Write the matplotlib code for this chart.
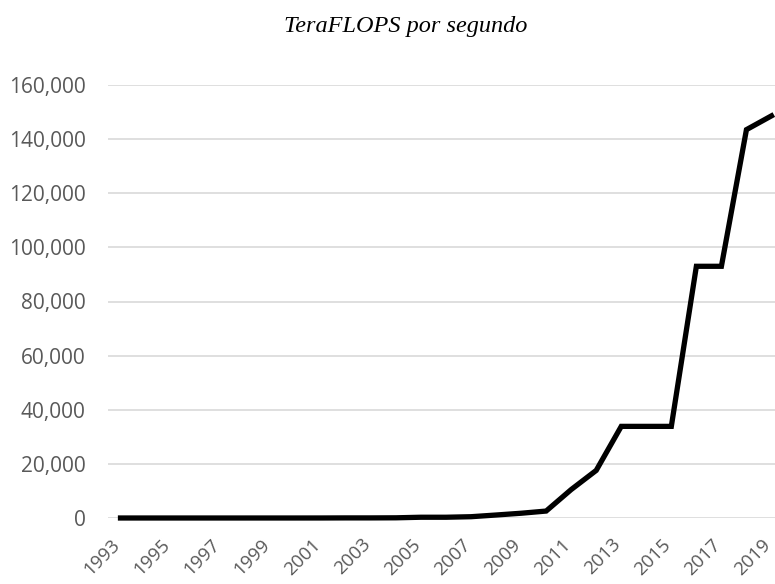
import matplotlib
matplotlib.use('Agg')
import matplotlib.pyplot as plt
import matplotlib.transforms as mtrans
from matplotlib.ticker import FuncFormatter

# TOP500 #1 system, TFLOPS
years = list(range(1993, 2020))
tflops = [0.06, 0.17, 0.17, 0.37, 1.34, 1.34, 2.12, 2.38, 7.23, 35.86, 35.86,
          70.72, 280.6, 280.6, 478.2, 1105, 1759, 2566, 10510, 17590, 33860,
          33860, 33860, 93010, 93010, 143500, 148600]
tick_years = years[::2]

fig = plt.figure(figsize=(7.75, 5.84), dpi=100)
ax = fig.add_axes([108/775, 66/584, 676/775, 433/584])

ax.plot(years, tflops, color='black', lw=3.8, solid_joinstyle='miter', clip_on=False, zorder=3)

ax.set_xlim(1992.5, 2019.5)
ax.set_ylim(0, 160000)
ax.set_yticks(range(0, 160001, 20000))
ax.yaxis.set_major_formatter(FuncFormatter(lambda v, p: f'{int(v):,}'))
ax.set_xticks(tick_years)
ax.set_xticklabels([str(y) for y in tick_years], rotation=45, ha='right')

ax.grid(axis='y', color='#d9d9d9', lw=1.2)
ax.set_axisbelow(True)
for s in ax.spines.values():
    s.set_visible(False)
ax.tick_params(length=0, labelcolor='#595959')
ax.tick_params(axis='y', pad=16, labelsize=15)
ax.tick_params(axis='x', pad=12.5, labelsize=13.5)
shift = mtrans.ScaledTranslation(3/100, 0, fig.dpi_scale_trans)
for lbl in ax.get_xticklabels():
    lbl.set_transform(lbl.get_transform() + shift)
for lbl in ax.get_xticklabels() + ax.get_yticklabels():
    lbl.set_fontfamily('Open Sans')

fig.text(0.523, 0.945, 'TeraFLOPS por segundo', ha='center', va='baseline',
         fontsize=17.5, fontstyle='italic', family='Liberation Serif')

plt.savefig('out.png', dpi=100)
